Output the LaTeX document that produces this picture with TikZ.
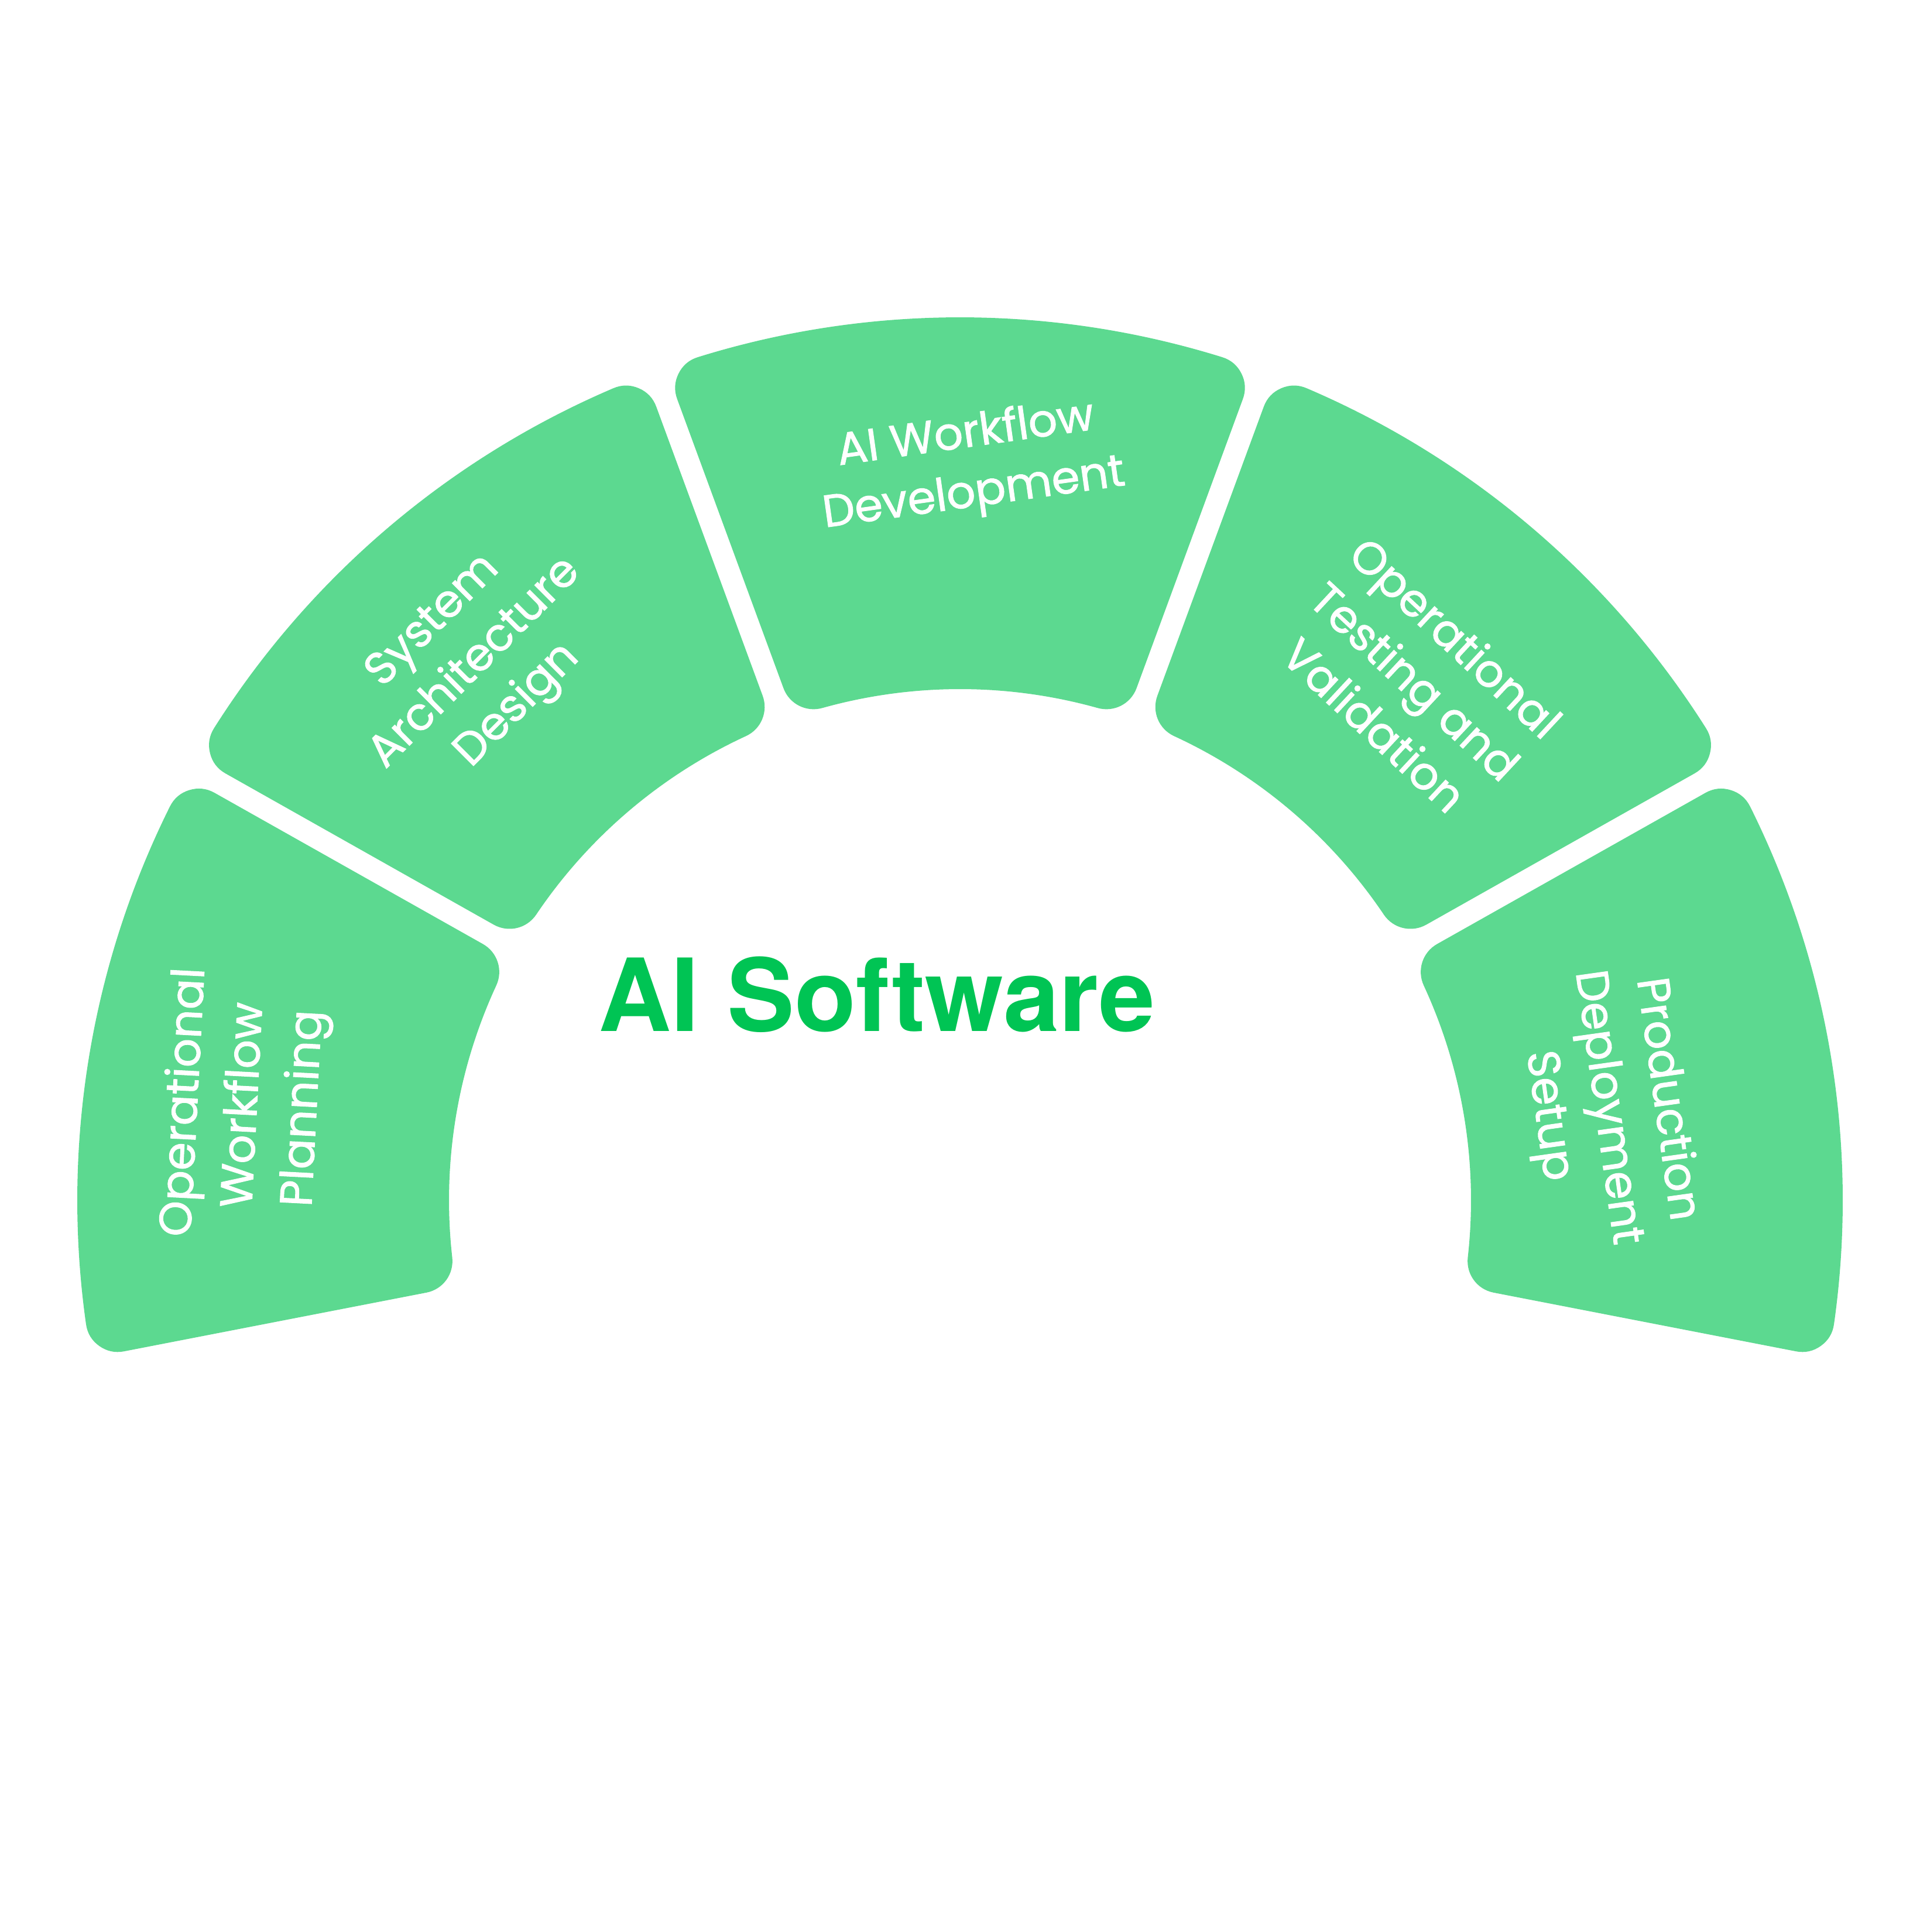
\documentclass[tikz,border=0pt]{standalone}
\usepackage{fontspec}
\usepackage{tikz}
\usetikzlibrary{positioning}
\setmainfont{Poppins}
\newfontfamily\segfont{Poppins}[FakeBold=1.3]
\newfontfamily\headfont{TeX Gyre Heros}
\definecolor{segGreen}{HTML}{5CD990}
\definecolor{headGreen}{HTML}{00C454}

\tikzset{
  seg/.style={fill=segGreen, draw=segGreen, line width=1.1cm, line join=round},
  segtext/.style={text=white, align=center, font=\segfont\fontsize{22}{29}\selectfont},
  headtext/.style={text=headGreen, font=\headfont\bfseries\fontsize{49}{49}\selectfont}
}

\begin{document}
\begin{tikzpicture}
            \useasboundingbox[fill=white] (0,0) rectangle (32.8,33);

            % ring of five steps round the centre
            \begin{scope}[shift={(16.4,12.5)}]
            \filldraw[seg] (153.52:14.53) arc[start angle=153.52, end angle=188.08, radius=14.53] -- (186.43:9.28) arc[start angle=186.43, end angle=155.17, radius=9.28] -- cycle;
            \filldraw[seg] (113.12:14.53) arc[start angle=113.12, end angle=147.68, radius=14.53] -- (146.03:9.28) arc[start angle=146.03, end angle=114.77, radius=9.28] -- cycle;
            \filldraw[seg] (72.72:14.53) arc[start angle=72.72, end angle=107.28, radius=14.53] -- (105.63:9.28) arc[start angle=105.63, end angle=74.37, radius=9.28] -- cycle;
            \filldraw[seg] (32.32:14.53) arc[start angle=32.32, end angle=66.88, radius=14.53] -- (65.23:9.28) arc[start angle=65.23, end angle=33.97, radius=9.28] -- cycle;
            \filldraw[seg] (-8.08:14.53) arc[start angle=-8.08, end angle=26.48, radius=14.53] -- (24.83:9.28) arc[start angle=24.83, end angle=-6.43, radius=9.28] -- cycle;
            \end{scope}

            \node[segtext, rotate=87] (plan) at (4.2,14.12) {Operational\\Workflow\\Planning};
            \node[segtext, rotate=45] (arch) at (8.14,21.65) {System\\Architecture\\Design};
            \node[segtext, rotate=8] (dev) at (16.57,25.05) {AI Workflow\\Development};
            \node[segtext, rotate=-43] (test) at (24.18,21.37) {Operational\\Testing and\\Validation};
            \node[segtext, rotate=-82] (prod) at (27.44,14.08) {Production\\Deployment\\Setup};

            \node[headtext, anchor=base] (title) at (14.98,15.38) {AI Software};
\end{tikzpicture}
\end{document}
